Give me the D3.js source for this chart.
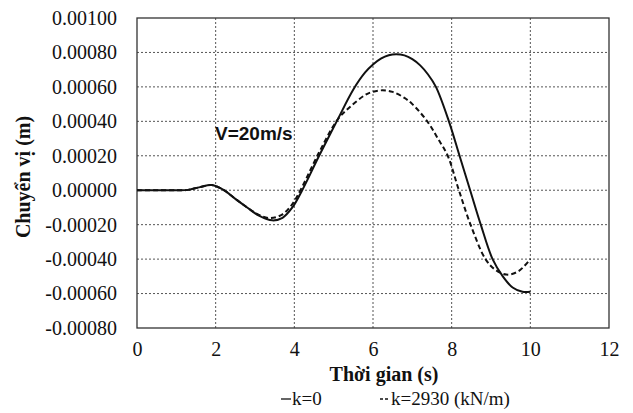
<!DOCTYPE html>
<html>
<head>
<meta charset="utf-8">
<script src="https://cdn.jsdelivr.net/npm/d3@7"></script>
<style>
  html, body { margin: 0; padding: 0; background: #fff; }
  svg { display: block; }
  svg text { font-family: "Liberation Serif", "DejaVu Serif", "Times New Roman", serif; fill: #111; }
  svg text.sans { font-family: "Liberation Sans", Arial, sans-serif; }
</style>
</head>
<body>
<svg id="chart" width="633" height="413"></svg>
<script>
// Time axis (s)
const time = [0, 0.5, 1.0, 1.3, 1.6, 1.9, 2.2, 2.5, 2.8, 3.1, 3.44, 3.7, 3.95, 4.2, 4.63, 5.1, 5.5, 5.8, 6.0, 6.2, 6.4, 6.59, 6.8, 7.0, 7.2, 7.4, 7.6, 7.93, 8.2, 8.47, 8.74, 9.04, 9.3, 9.55, 9.8, 10.0];
// Displacement (m), k = 0
const dispK0 = [0, 0, 0, 0.000002, 0.000018, 0.00003, 0.000002, -0.00005, -0.0001, -0.000148, -0.000175, -0.00016, -0.0001, 0, 0.0002, 0.00041, 0.000585, 0.000684, 0.00073, 0.000764, 0.000784, 0.00079, 0.000783, 0.000761, 0.000725, 0.000672, 0.0006, 0.0004, 0.0002, 0, -0.0002, -0.0004, -0.0005, -0.000565, -0.00059, -0.00059];

// Time axis (s) for k = 2930 kN/m
const time2 = [0, 0.5, 1.0, 1.3, 1.6, 1.9, 2.2, 2.5, 2.8, 3.1, 3.4, 3.7, 3.95, 4.2, 4.63, 5.1, 5.4, 5.8, 6.0, 6.24, 6.5, 6.8, 7.0, 7.38, 7.65, 7.9, 8.17, 8.48, 8.86, 9.1, 9.39, 9.7, 10.0];
// Displacement (m), k = 2930 kN/m
const dispK2930 = [0, 0, 0, 0.000002, 0.000018, 0.00003, 0.000002, -0.00005, -0.0001, -0.000143, -0.000162, -0.00014, -0.00008, 0.00002, 0.00022, 0.00041, 0.00048, 0.000553, 0.000572, 0.00058, 0.000571, 0.000536, 0.0005, 0.0004, 0.0003, 0.0002, 0.00001, -0.0002, -0.0004, -0.00046, -0.00049, -0.00047, -0.0004];

const xTicks = [0, 2, 4, 6, 8, 10, 12];
const yTicks = [-0.0008, -0.0006, -0.0004, -0.0002, 0, 0.0002, 0.0004, 0.0006, 0.0008, 0.001];

const seriesNames = ["k=0", "k=2930 (kN/m)"];

const serif = '"Liberation Serif", "DejaVu Serif", "Times New Roman", serif';

const svg = d3.select("#chart");
const plotLeft = 137, plotRight = 609, plotTop = 18, plotBottom = 328;

const x = d3.scaleLinear().domain([0, 12]).range([plotLeft, plotRight]);
const y = d3.scaleLinear().domain([-0.0008, 0.001]).range([plotBottom, plotTop]);

// Dotted grid
const grid = svg.append("g").attr("stroke", "#555").attr("stroke-width", 1).attr("stroke-dasharray", "2,2");
grid.selectAll("line.h").data(yTicks.slice(1, -1)).join("line")
  .attr("class", "h")
  .attr("x1", plotLeft).attr("x2", plotRight)
  .attr("y1", d => y(d)).attr("y2", d => y(d));
grid.selectAll("line.v").data(xTicks.slice(1, -1)).join("line")
  .attr("class", "v")
  .attr("y1", plotTop).attr("y2", plotBottom)
  .attr("x1", d => x(d)).attr("x2", d => x(d));

// Plot frame
svg.append("rect").attr("x", plotLeft).attr("y", plotTop)
  .attr("width", plotRight - plotLeft).attr("height", plotBottom - plotTop)
  .attr("fill", "none").attr("stroke", "#333").attr("stroke-width", 1.3);

// Axes (labels only)
const yAxis = svg.append("g").attr("transform", `translate(${plotLeft},0)`)
  .call(d3.axisLeft(y).tickValues(yTicks).tickSize(0).tickPadding(20).tickFormat(d => d3.format(".5f")(d).replace("−", "-")));
const xAxis = svg.append("g").attr("transform", `translate(0,${plotBottom})`)
  .call(d3.axisBottom(x).tickValues(xTicks).tickSize(0).tickPadding(14).tickFormat(d3.format("d")));
[yAxis, xAxis].forEach(a => {
  a.attr("font-family", null).attr("font-size", null);
  a.select(".domain").remove();
  a.selectAll("text").attr("font-size", 20).style("font-family", serif);
});

// Curves
const line = d3.line().curve(d3.curveCatmullRom.alpha(0.5));
svg.append("path")
  .attr("d", line(time.map((t, i) => [x(t), y(dispK0[i])])))
  .attr("fill", "none").attr("stroke", "#111").attr("stroke-width", 2);
svg.append("path")
  .attr("d", line(time2.map((t, i) => [x(t), y(dispK2930[i])])))
  .attr("fill", "none").attr("stroke", "#111").attr("stroke-width", 2)
  .attr("stroke-dasharray", "5,3");

// Annotation
svg.append("text").attr("class", "sans").attr("x", 215).attr("y", 140)
  .attr("font-weight", "bold").attr("font-size", 19).text("V=20m/s");

// Axis titles
svg.append("text").attr("x", 384).attr("y", 381).attr("text-anchor", "middle")
  .attr("font-weight", "bold").attr("font-size", 20)
  .text("Thời gian (s)");
svg.append("text").attr("transform", "translate(30,177) rotate(-90)").attr("text-anchor", "middle")
  .attr("font-weight", "bold").attr("font-size", 20)
  .text("Chuyển vị (m)");

// Legend
const legend = svg.append("g");
const legendItems = [
  { name: seriesNames[0], x: 281, dash: null },
  { name: seriesNames[1], x: 380, dash: "3,2" }
];
legendItems.forEach(it => {
  legend.append("line").attr("x1", it.x).attr("x2", it.x + 10).attr("y1", 399).attr("y2", 399)
    .attr("stroke", "#111").attr("stroke-width", 1.3).attr("stroke-dasharray", it.dash);
  legend.append("text").attr("x", it.x + 11).attr("y", 405)
    .attr("font-size", 19).style("font-family", serif).text(it.name);
});
</script>
</body>
</html>
